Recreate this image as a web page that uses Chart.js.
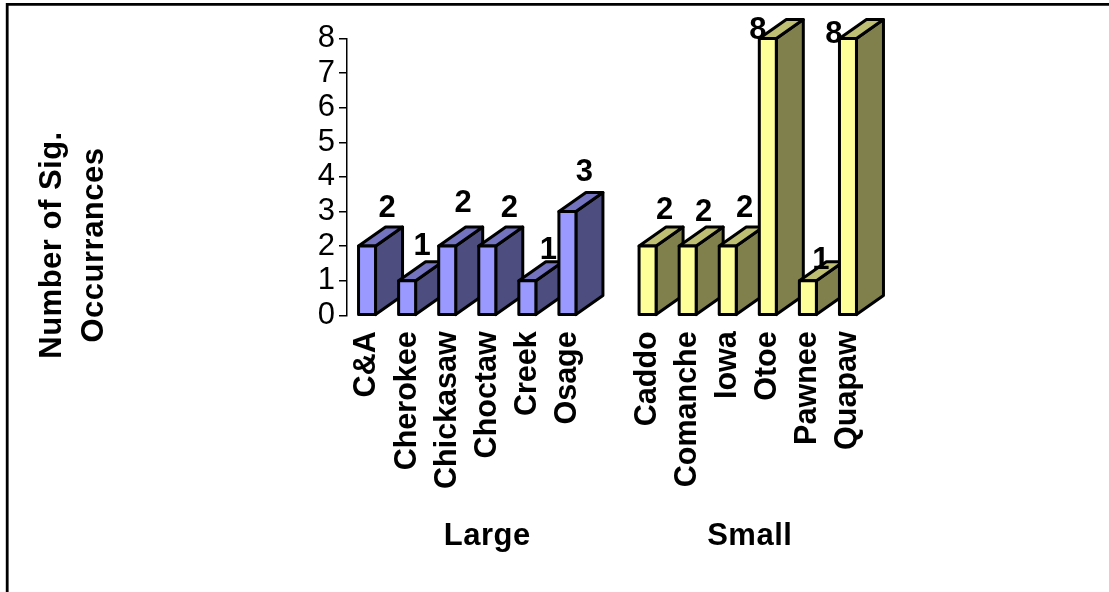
<!DOCTYPE html>
<html>
<head>
<meta charset="utf-8">
<title>Number of Sig. Occurrances</title>
<script src="https://cdn.jsdelivr.net/npm/chart.js@4"></script>
<style>
    html, body { margin: 0; padding: 0; background: #fff; }
    canvas { display: block; }
</style>
</head>
<body>
<canvas id="grafico" width="1109" height="592"></canvas>
<script>
// dados; '' e null abrem o espaco entre os dois grupos
const categorias = ['C&A', 'Cherokee', 'Chickasaw', 'Choctaw', 'Creek', 'Osage', '', 'Caddo', 'Comanche', 'Iowa', 'Otoe', 'Pawnee', 'Quapaw'];
const ocorrencias = [2, 1, 2, 2, 1, 3, null, 2, 2, 2, 8, 1, 8];
const ticksY = [0, 1, 2, 3, 4, 5, 6, 7, 8];
const grupos = ['Large', 'Small'];
const tituloY = ['Number of Sig.', 'Occurrances'];

// deslocamento dos rotulos em relacao ao topo de cada barra
const rotuloDx = [20, 15, 16, 22, 21, 17, 0, 17, 16, 17, -10, 13, -14];
const rotuloDy = [-38, -34, -43, -38, -30, -39, 0, -36, -34, -38, -8, -20, -4];

const fonte = '"Liberation Sans", Arial, sans-serif';
const cores = {
    large: { frente: '#9999FF', topo: '#7373BF', lado: '#4D4D80' },
    small: { frente: '#FFFF99', topo: '#BFBF73', lado: '#80804D' }
};

function corDaBarra(i) {
    return i < 6 ? cores.large : cores.small;
}

function poligono(ctx, pontos, cor) {
    ctx.beginPath();
    pontos.forEach((p, i) => i ? ctx.lineTo(p[0], p[1]) : ctx.moveTo(p[0], p[1]));
    ctx.closePath();
    ctx.fillStyle = cor;
    ctx.fill();
    ctx.stroke();
}

function textoRotacionado(ctx, texto, x, y) {
    ctx.save();
    ctx.translate(x, y);
    ctx.rotate(-Math.PI / 2);
    ctx.fillText(texto, 0, 0);
    ctx.restore();
}

// barras em "3D": lado e topo saem da barra que o Chart.js posicionou
const barras3d = {
    id: 'barras3d',
    beforeDatasetDraw(chart, args) {
        const ctx = chart.ctx;
        const dx = 27, dy = 19;

        ctx.save();
        ctx.strokeStyle = '#000';
        ctx.lineWidth = 3;
        ctx.lineJoin = 'round';
        args.meta.data.forEach((barra, i) => {
            if (ocorrencias[i] === null) return;
            const esq = barra.x - barra.width / 2;
            const dir = barra.x + barra.width / 2;
            const cor = corDaBarra(i);
            poligono(ctx, [[dir, barra.y], [dir + dx, barra.y - dy], [dir + dx, barra.base - dy], [dir, barra.base]], cor.lado);
            poligono(ctx, [[esq, barra.y], [esq + dx, barra.y - dy], [dir + dx, barra.y - dy], [dir, barra.y]], cor.topo);
            // contorno desenhado a mao para a barra nao encolher com a borda
            poligono(ctx, [[esq, barra.y], [dir, barra.y], [dir, barra.base], [esq, barra.base]], cor.frente);
        });
        ctx.restore();
        return false;
    }
};

const textos = {
    id: 'textos',
    afterDraw(chart) {
        const ctx = chart.ctx;
        const x = chart.scales.x;

        ctx.save();
        // moldura: so topo e esquerda aparecem
        ctx.strokeStyle = '#000';
        ctx.lineWidth = 2.8;
        ctx.beginPath();
        ctx.moveTo(7.2, 592);
        ctx.lineTo(7.2, 4.4);
        ctx.lineTo(1109, 4.4);
        ctx.stroke();

        ctx.fillStyle = '#000';
        ctx.textAlign = 'center';
        ctx.textBaseline = 'middle';
        ctx.font = 'bold 31px ' + fonte;
        chart.getDatasetMeta(0).data.forEach((barra, i) => {
            if (ocorrencias[i] === null) return;
            ctx.fillText(ocorrencias[i], barra.x + rotuloDx[i], barra.y + rotuloDy[i]);
        });

        ctx.letterSpacing = '0.5px';
        ctx.fillText(grupos[0], x.getPixelForValue(3), 536);
        ctx.fillText(grupos[1], x.getPixelForValue(9.55), 536);

        textoRotacionado(ctx, tituloY[0], 52, 245);
        textoRotacionado(ctx, tituloY[1], 94, 245);
        ctx.restore();
    }
};

new Chart(document.getElementById('grafico'), {
    type: 'bar',
    data: {
        labels: categorias,
        datasets: [{
            data: ocorrencias,
            backgroundColor: categorias.map((c, i) => corDaBarra(i).frente),
            barThickness: 17
        }]
    },
    options: {
        responsive: false,
        animation: false,
        layout: { padding: { left: 240, right: 241, top: 38.5, bottom: 0 } },
        plugins: { legend: { display: false }, tooltip: { enabled: false } },
        scales: {
            x: {
                grid: { display: false },
                border: { display: false },
                afterFit: (escala) => { escala.height = 592 - 315.3; },
                ticks: {
                    autoSkip: false,
                    minRotation: 90,
                    maxRotation: 90,
                    padding: 8,
                    color: '#000',
                    font: { family: fonte, size: 30.5, weight: 'bold' }
                }
            },
            y: {
                min: 0,
                max: 8,
                afterFit: (escala) => { escala.width = 107; },
                afterBuildTicks: (escala) => { escala.ticks = ticksY.map((v) => ({ value: v })); },
                border: { color: '#000', width: 1.5 },
                grid: { drawOnChartArea: false, color: '#000', lineWidth: 1.5, tickLength: 8 },
                ticks: {
                    autoSkip: false,
                    padding: 4,
                    color: '#000',
                    font: { family: fonte, size: 31 }
                }
            }
        }
    },
    plugins: [barras3d, textos]
});
</script>
</body>
</html>
